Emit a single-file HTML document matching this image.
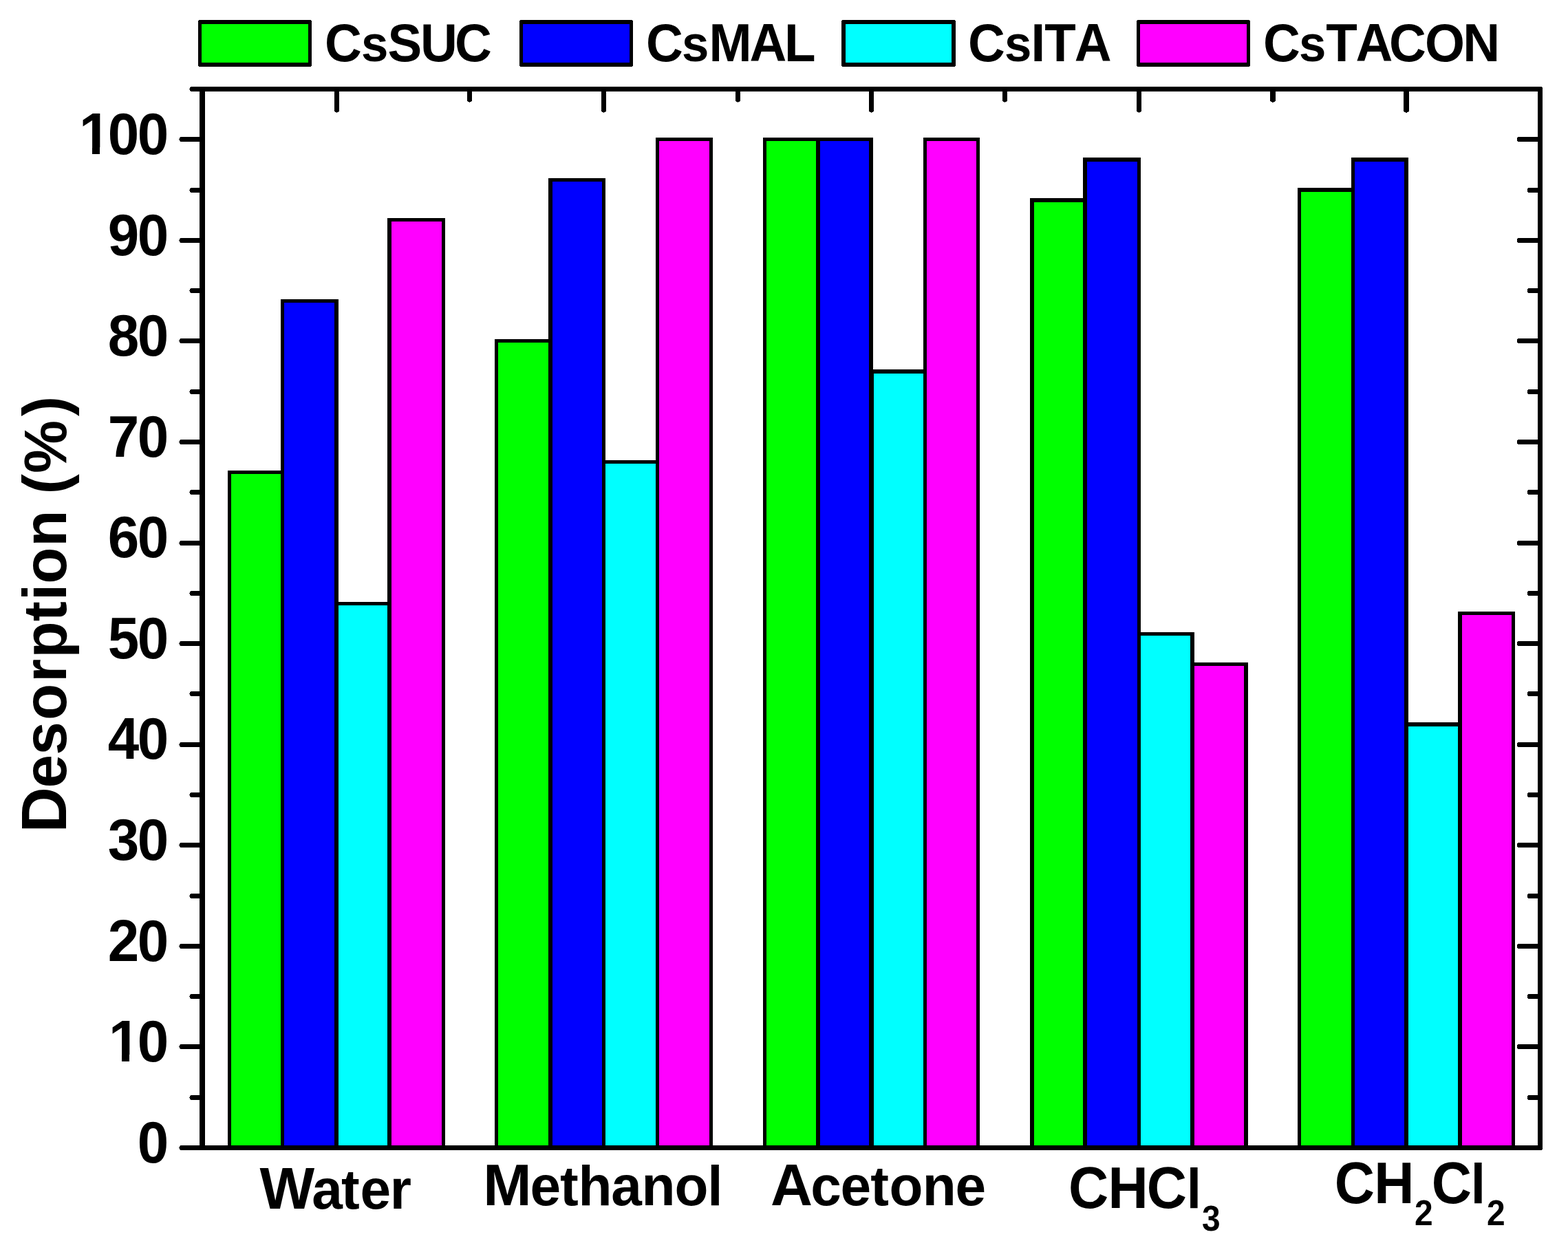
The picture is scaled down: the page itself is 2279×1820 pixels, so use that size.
<!DOCTYPE html>
<html lang="en"><head><meta charset="utf-8"><title>Desorption (%) by solvent</title>
<style>html,body{margin:0;padding:0;background:#fff}body{width:2279px;height:1820px;overflow:hidden}svg{display:block}text{font-family:"Liberation Sans",sans-serif;font-weight:bold;fill:#000;font-kerning:none;white-space:pre}</style></head><body>
<svg width="2279" height="1820" viewBox="0 0 2279 1820">
<rect x="0" y="0" width="2279" height="1820" fill="#fff"/>
<g shape-rendering="crispEdges">
<rect x="331" y="684" width="82" height="984" fill="#000"/>
<rect x="336" y="689" width="72" height="976" fill="#00ff00"/>
<rect x="408" y="435" width="84" height="1233" fill="#000"/>
<rect x="413" y="440" width="73" height="1225" fill="#0000ff"/>
<rect x="486" y="875" width="83" height="793" fill="#000"/>
<rect x="492" y="880" width="71" height="785" fill="#00ffff"/>
<rect x="563" y="317" width="84" height="1351" fill="#000"/>
<rect x="569" y="322" width="73" height="1343" fill="#ff00ff"/>
<rect x="719" y="493" width="84" height="1175" fill="#000"/>
<rect x="724" y="498" width="73" height="1167" fill="#00ff00"/>
<rect x="797" y="259" width="83" height="1409" fill="#000"/>
<rect x="803" y="264" width="72" height="1401" fill="#0000ff"/>
<rect x="875" y="669" width="83" height="999" fill="#000"/>
<rect x="880" y="674" width="73" height="991" fill="#00ffff"/>
<rect x="953" y="200" width="83" height="1468" fill="#000"/>
<rect x="958" y="205" width="73" height="1460" fill="#ff00ff"/>
<rect x="1109" y="200" width="83" height="1468" fill="#000"/>
<rect x="1114" y="205" width="72" height="1460" fill="#00ff00"/>
<rect x="1186" y="200" width="83" height="1468" fill="#000"/>
<rect x="1192" y="205" width="71" height="1460" fill="#0000ff"/>
<rect x="1264" y="537" width="83" height="1131" fill="#000"/>
<rect x="1270" y="543" width="72" height="1122" fill="#00ffff"/>
<rect x="1342" y="200" width="82" height="1468" fill="#000"/>
<rect x="1347" y="205" width="72" height="1460" fill="#ff00ff"/>
<rect x="1497" y="288" width="83" height="1380" fill="#000"/>
<rect x="1503" y="294" width="71" height="1371" fill="#00ff00"/>
<rect x="1574" y="229" width="84" height="1439" fill="#000"/>
<rect x="1580" y="235" width="73" height="1430" fill="#0000ff"/>
<rect x="1653" y="919" width="83" height="749" fill="#000"/>
<rect x="1658" y="924" width="72" height="741" fill="#00ffff"/>
<rect x="1730" y="963" width="84" height="705" fill="#000"/>
<rect x="1736" y="968" width="72" height="697" fill="#ff00ff"/>
<rect x="1886" y="273" width="83" height="1395" fill="#000"/>
<rect x="1891" y="279" width="73" height="1386" fill="#00ff00"/>
<rect x="1964" y="229" width="83" height="1439" fill="#000"/>
<rect x="1969" y="235" width="72" height="1430" fill="#0000ff"/>
<rect x="2041" y="1050" width="84" height="618" fill="#000"/>
<rect x="2047" y="1056" width="72" height="609" fill="#00ffff"/>
<rect x="2119" y="889" width="83" height="779" fill="#000"/>
<rect x="2125" y="894" width="72" height="771" fill="#ff00ff"/>
</g>
<g shape-rendering="crispEdges" fill="#000">
<rect x="290" y="126" width="8" height="1546"/>
<rect x="2235" y="126" width="6" height="1546"/>
<rect x="2241" y="127" width="1" height="1544"/>
<rect x="277" y="126" width="1964" height="7"/>
<rect x="276" y="127" width="1" height="5"/>
<rect x="275" y="129" width="1" height="1"/>
<rect x="262" y="1665" width="1979" height="7"/>
<rect x="261" y="1666" width="1" height="5"/>
<rect x="260" y="1668" width="1" height="1"/>
<rect x="277" y="1592" width="13" height="7"/>
<rect x="276" y="1593" width="1" height="5"/>
<rect x="275" y="1595" width="1" height="1"/>
<rect x="2221" y="1592" width="14" height="7"/>
<rect x="2220" y="1593" width="1" height="5"/>
<rect x="262" y="1518" width="28" height="7"/>
<rect x="261" y="1519" width="1" height="5"/>
<rect x="260" y="1521" width="1" height="1"/>
<rect x="2206" y="1518" width="29" height="7"/>
<rect x="2205" y="1519" width="1" height="5"/>
<rect x="277" y="1445" width="13" height="7"/>
<rect x="276" y="1446" width="1" height="5"/>
<rect x="275" y="1448" width="1" height="1"/>
<rect x="2221" y="1445" width="14" height="7"/>
<rect x="2220" y="1446" width="1" height="5"/>
<rect x="262" y="1372" width="28" height="7"/>
<rect x="261" y="1373" width="1" height="5"/>
<rect x="260" y="1375" width="1" height="1"/>
<rect x="2206" y="1372" width="29" height="7"/>
<rect x="2205" y="1373" width="1" height="5"/>
<rect x="277" y="1299" width="13" height="7"/>
<rect x="276" y="1300" width="1" height="5"/>
<rect x="275" y="1302" width="1" height="1"/>
<rect x="2221" y="1299" width="14" height="7"/>
<rect x="2220" y="1300" width="1" height="5"/>
<rect x="262" y="1225" width="28" height="7"/>
<rect x="261" y="1226" width="1" height="5"/>
<rect x="260" y="1228" width="1" height="1"/>
<rect x="2206" y="1225" width="29" height="7"/>
<rect x="2205" y="1226" width="1" height="5"/>
<rect x="277" y="1152" width="13" height="7"/>
<rect x="276" y="1153" width="1" height="5"/>
<rect x="275" y="1155" width="1" height="1"/>
<rect x="2221" y="1152" width="14" height="7"/>
<rect x="2220" y="1153" width="1" height="5"/>
<rect x="262" y="1079" width="28" height="7"/>
<rect x="261" y="1080" width="1" height="5"/>
<rect x="260" y="1082" width="1" height="1"/>
<rect x="2206" y="1079" width="29" height="7"/>
<rect x="2205" y="1080" width="1" height="5"/>
<rect x="277" y="1005" width="13" height="7"/>
<rect x="276" y="1006" width="1" height="5"/>
<rect x="275" y="1008" width="1" height="1"/>
<rect x="2221" y="1005" width="14" height="7"/>
<rect x="2220" y="1006" width="1" height="5"/>
<rect x="262" y="932" width="28" height="7"/>
<rect x="261" y="933" width="1" height="5"/>
<rect x="260" y="935" width="1" height="1"/>
<rect x="2206" y="932" width="29" height="7"/>
<rect x="2205" y="933" width="1" height="5"/>
<rect x="277" y="859" width="13" height="7"/>
<rect x="276" y="860" width="1" height="5"/>
<rect x="275" y="862" width="1" height="1"/>
<rect x="2221" y="859" width="14" height="7"/>
<rect x="2220" y="860" width="1" height="5"/>
<rect x="262" y="786" width="28" height="7"/>
<rect x="261" y="787" width="1" height="5"/>
<rect x="260" y="789" width="1" height="1"/>
<rect x="2206" y="786" width="29" height="7"/>
<rect x="2205" y="787" width="1" height="5"/>
<rect x="277" y="712" width="13" height="7"/>
<rect x="276" y="713" width="1" height="5"/>
<rect x="275" y="715" width="1" height="1"/>
<rect x="2221" y="712" width="14" height="7"/>
<rect x="2220" y="713" width="1" height="5"/>
<rect x="262" y="639" width="28" height="7"/>
<rect x="261" y="640" width="1" height="5"/>
<rect x="260" y="642" width="1" height="1"/>
<rect x="2206" y="639" width="29" height="7"/>
<rect x="2205" y="640" width="1" height="5"/>
<rect x="277" y="566" width="13" height="7"/>
<rect x="276" y="567" width="1" height="5"/>
<rect x="275" y="569" width="1" height="1"/>
<rect x="2221" y="566" width="14" height="7"/>
<rect x="2220" y="567" width="1" height="5"/>
<rect x="262" y="492" width="28" height="7"/>
<rect x="261" y="493" width="1" height="5"/>
<rect x="260" y="495" width="1" height="1"/>
<rect x="2206" y="492" width="29" height="7"/>
<rect x="2205" y="493" width="1" height="5"/>
<rect x="277" y="419" width="13" height="7"/>
<rect x="276" y="420" width="1" height="5"/>
<rect x="275" y="422" width="1" height="1"/>
<rect x="2221" y="419" width="14" height="7"/>
<rect x="2220" y="420" width="1" height="5"/>
<rect x="262" y="346" width="28" height="7"/>
<rect x="261" y="347" width="1" height="5"/>
<rect x="260" y="349" width="1" height="1"/>
<rect x="2206" y="346" width="29" height="7"/>
<rect x="2205" y="347" width="1" height="5"/>
<rect x="277" y="273" width="13" height="7"/>
<rect x="276" y="274" width="1" height="5"/>
<rect x="275" y="276" width="1" height="1"/>
<rect x="2221" y="273" width="14" height="7"/>
<rect x="2220" y="274" width="1" height="5"/>
<rect x="262" y="199" width="28" height="7"/>
<rect x="261" y="200" width="1" height="5"/>
<rect x="260" y="202" width="1" height="1"/>
<rect x="2206" y="199" width="29" height="7"/>
<rect x="2205" y="200" width="1" height="5"/>
<rect x="486" y="133" width="7" height="29"/>
<rect x="487" y="162" width="5" height="1"/>
<rect x="489" y="163" width="1" height="1"/>
<rect x="874" y="133" width="7" height="29"/>
<rect x="875" y="162" width="5" height="1"/>
<rect x="877" y="163" width="1" height="1"/>
<rect x="1263" y="133" width="7" height="29"/>
<rect x="1264" y="162" width="5" height="1"/>
<rect x="1266" y="163" width="1" height="1"/>
<rect x="1652" y="133" width="7" height="29"/>
<rect x="1653" y="162" width="5" height="1"/>
<rect x="1655" y="163" width="1" height="1"/>
<rect x="2040" y="133" width="8" height="29"/>
<rect x="2041" y="162" width="6" height="1"/>
<rect x="2043" y="163" width="2" height="1"/>
<rect x="679" y="133" width="7" height="14"/>
<rect x="680" y="147" width="5" height="1"/>
<rect x="682" y="148" width="1" height="1"/>
<rect x="1069" y="133" width="7" height="14"/>
<rect x="1070" y="147" width="5" height="1"/>
<rect x="1072" y="148" width="1" height="1"/>
<rect x="1457" y="133" width="7" height="14"/>
<rect x="1458" y="147" width="5" height="1"/>
<rect x="1460" y="148" width="1" height="1"/>
<rect x="1846" y="133" width="8" height="14"/>
<rect x="1847" y="147" width="6" height="1"/>
<rect x="1849" y="148" width="2" height="1"/>
</g>
<g shape-rendering="crispEdges">
<rect x="289" y="29" width="163" height="68" fill="#000"/>
<rect x="288" y="30" width="165" height="66" fill="#000"/>
<rect x="293" y="35" width="155" height="56" fill="#00ff00"/>
<rect x="756" y="29" width="163" height="68" fill="#000"/>
<rect x="755" y="30" width="165" height="66" fill="#000"/>
<rect x="760" y="35" width="155" height="56" fill="#0000ff"/>
<rect x="1224" y="29" width="164" height="68" fill="#000"/>
<rect x="1223" y="30" width="166" height="66" fill="#000"/>
<rect x="1229" y="35" width="154" height="56" fill="#00ffff"/>
<rect x="1653" y="29" width="163" height="68" fill="#000"/>
<rect x="1652" y="30" width="165" height="66" fill="#000"/>
<rect x="1657" y="35" width="155" height="56" fill="#ff00ff"/>
</g>
<text id="t0" transform="translate(0.00 1690.00) scale(0.9650 1)" font-size="84.70px"><tspan x="207.01">0</tspan></text>
<text id="t10" transform="translate(0.00 1543.00) scale(0.9650 1)" font-size="84.70px"><tspan x="163.82 207.01">10</tspan></text>
<text id="t20" transform="translate(0.00 1397.00) scale(0.9650 1)" font-size="84.70px"><tspan x="162.35 207.01">20</tspan></text>
<text id="t30" transform="translate(0.00 1250.00) scale(0.9650 1)" font-size="84.70px"><tspan x="162.35 207.01">30</tspan></text>
<text id="t40" transform="translate(0.00 1103.00) scale(0.9650 1)" font-size="84.70px"><tspan x="162.35 207.01">40</tspan></text>
<text id="t50" transform="translate(0.00 957.00) scale(0.9650 1)" font-size="84.70px"><tspan x="162.35 207.01">50</tspan></text>
<text id="t60" transform="translate(0.00 810.00) scale(0.9650 1)" font-size="84.70px"><tspan x="162.35 207.01">60</tspan></text>
<text id="t70" transform="translate(0.00 664.00) scale(0.9650 1)" font-size="84.70px"><tspan x="162.35 207.01">70</tspan></text>
<text id="t80" transform="translate(0.00 517.00) scale(0.9650 1)" font-size="84.70px"><tspan x="162.35 207.01">80</tspan></text>
<text id="t90" transform="translate(0.00 371.00) scale(0.9650 1)" font-size="84.70px"><tspan x="162.35 207.01">90</tspan></text>
<text id="t100" transform="translate(0.00 224.00) scale(0.9650 1)" font-size="84.70px"><tspan x="119.15 162.35 207.01">100</tspan></text>
<g shape-rendering="crispEdges" fill="#fff">
<rect x="162.23" y="1533.36" width="14.93" height="10.64"/>
<rect x="188.37" y="1533.36" width="13.89" height="10.64"/>
<rect x="119.13" y="214.36" width="14.93" height="10.64"/>
<rect x="145.27" y="214.36" width="13.89" height="10.64"/>
</g>
<text id="l0" transform="translate(0.00 89.00) scale(0.9500 1)" font-size="78.50px"><tspan x="496.86">C</tspan><tspan x="552.74" font-size="74.58px">s</tspan><tspan x="593.17 643.27 695.91">SUC</tspan></text>
<text id="l1" transform="translate(0.00 89.00) scale(0.9500 1)" font-size="78.50px"><tspan x="988.49">C</tspan><tspan x="1043.27" font-size="74.58px">s</tspan><tspan x="1084.62 1146.92 1200.12">MAL</tspan></text>
<text id="l2" transform="translate(0.00 89.00) scale(0.9500 1)" font-size="78.50px"><tspan x="1481.07">C</tspan><tspan x="1536.95" font-size="74.58px">s</tspan><tspan x="1577.49 1598.22 1643.92">ITA</tspan></text>
<text id="l3" transform="translate(0.00 89.00) scale(0.9500 1)" font-size="78.50px"><tspan x="1932.75">C</tspan><tspan x="1987.38" font-size="74.58px">s</tspan><tspan x="2028.64 2074.24 2125.33 2179.98 2238.10">TACON</tspan></text>
<text id="x0" transform="translate(0.00 1757.00) scale(0.9850 1)" font-size="85.75px"><tspan x="383.29">W</tspan><tspan x="460.25 503.64 531.41 575.34" font-size="81.46px">ater</tspan></text>
<text id="x1" transform="translate(0.00 1752.00) scale(0.9850 1)" font-size="85.75px"><tspan x="712.96">M</tspan><tspan x="782.25 826.44 853.30 901.88 946.81 995.37 1044.05" font-size="81.46px">ethanol</tspan></text>
<text id="x2" transform="translate(0.00 1752.00) scale(0.9850 1)" font-size="85.75px"><tspan x="1137.02">A</tspan><tspan x="1196.09 1240.14 1284.51 1312.18 1361.13 1409.64" font-size="81.46px">cetone</tspan></text>
<text id="x3" transform="translate(0.00 1756.00) scale(0.9400 1)" font-size="85.75px"><tspan x="1652.01 1713.21 1773.24">CHC</tspan><tspan x="1834.95" font-size="81.46px">l</tspan><tspan x="1858.44" dy="32.5" font-size="51.00px">3</tspan></text>
<text id="x4" transform="translate(0.00 1749.00) scale(0.9400 1)" font-size="85.75px"><tspan x="2063.50 2124.80">CH</tspan><tspan x="2187.13" dy="32" font-size="51.00px">2</tspan><tspan x="2213.61" dy="-32">C</tspan><tspan x="2274.31" font-size="81.46px">l</tspan><tspan x="2298.83" dy="32" font-size="51.00px">2</tspan></text>
<text id="yl" transform="translate(96.00 1204.00) rotate(-90) scale(0.9850 1)" font-size="93.00px"><tspan x="-6.22">D</tspan><tspan x="59.38 108.08 159.51 215.50 251.33 305.34 335.99 360.63 415.60" font-size="88.35px">esorption</tspan><tspan x="469.57"> </tspan><tspan x="493.13" font-size="88.35px">(</tspan><tspan x="523.99" font-size="88.00px">%</tspan><tspan x="608.00" font-size="88.35px">)</tspan></text>
</svg></body></html>
